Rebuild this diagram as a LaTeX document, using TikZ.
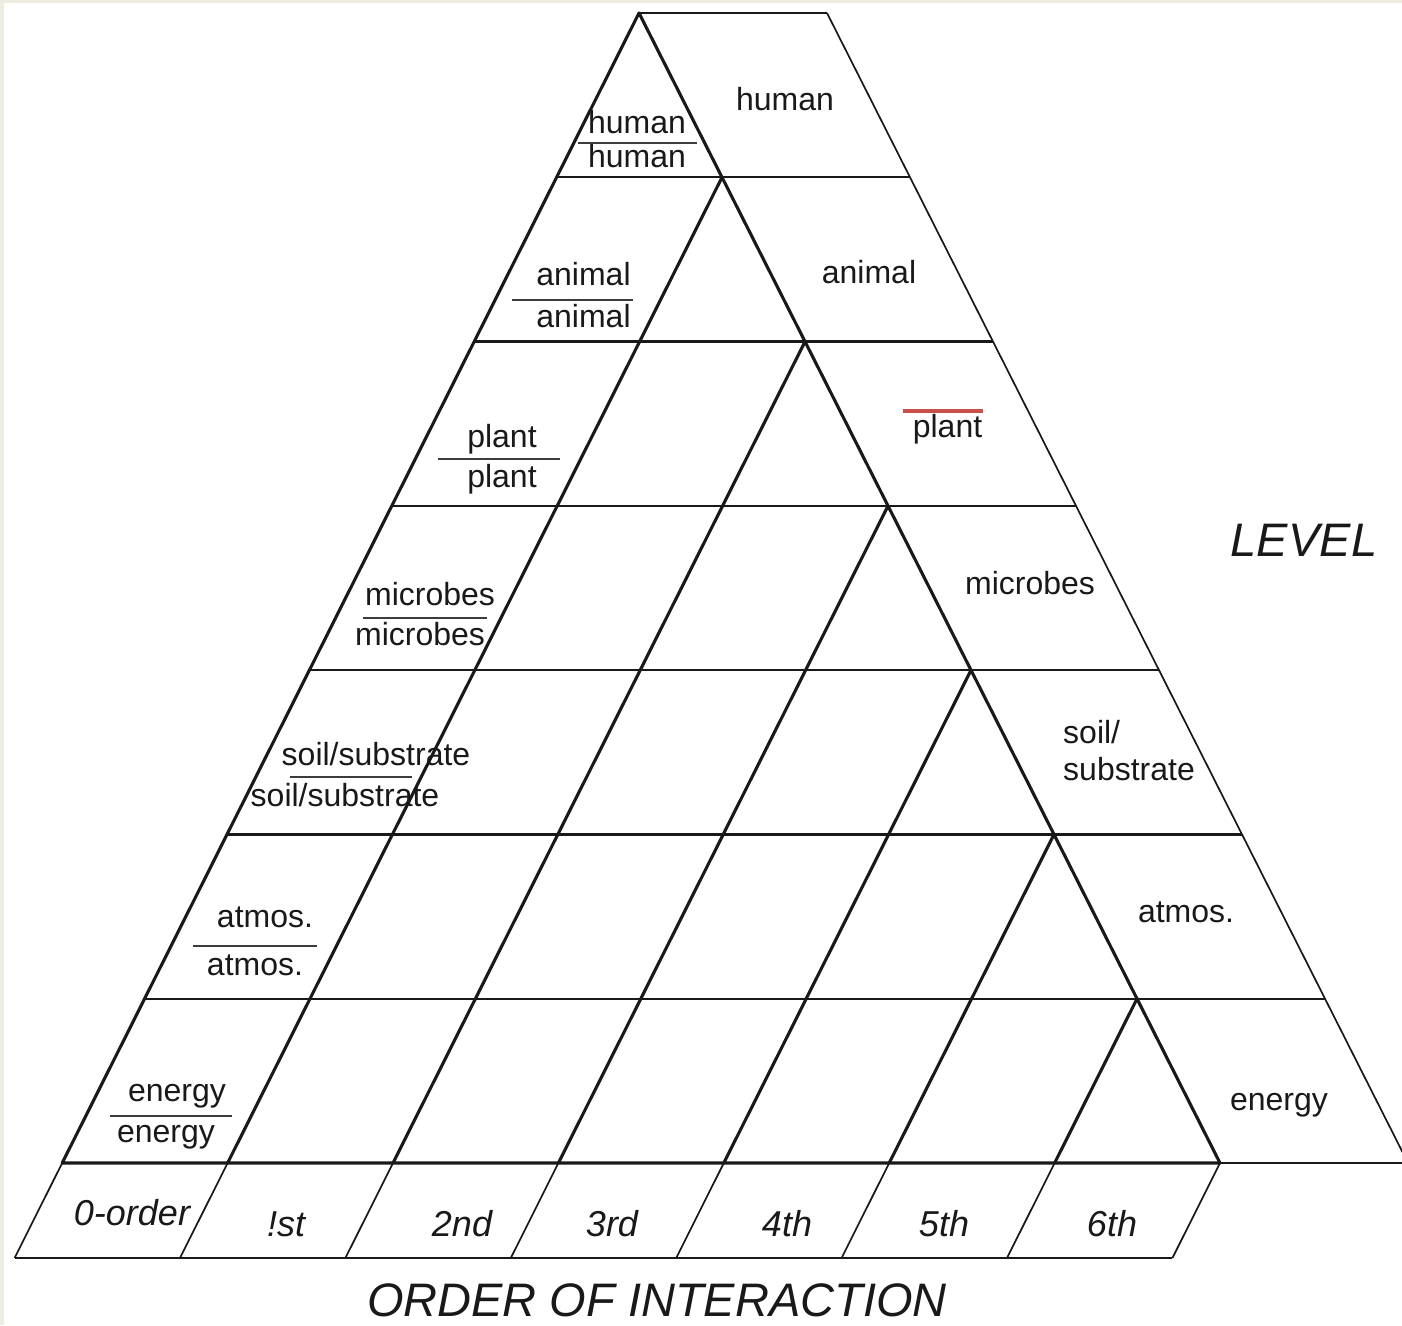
\documentclass[tikz,border=0pt]{standalone}
\usepackage{fontspec}
\setmainfont{Liberation Sans}
\definecolor{frame}{RGB}{238,235,224}
\definecolor{ink}{RGB}{25,25,25}
\definecolor{redmark}{RGB}{200,80,75}
\begin{document}
\begin{tikzpicture}[x=1pt,y=-1pt,
  heavy/.style={line width=3.1pt,draw=ink,line cap=round,line join=round},
  mid/.style={line width=2.2pt,draw=ink},
  thin/.style={line width=1.7pt,draw=ink},
  fracrule/.style={line width=2pt,draw=ink!85},
  lab/.style={font=\fontsize{32}{38}\selectfont,inner sep=0pt,anchor=base,text=ink},
  ordlab/.style={font=\fontsize{36}{42}\selectfont\itshape,inner sep=0pt,anchor=base,text=ink},
  title/.style={font=\fontsize{47}{54}\selectfont\itshape,inner sep=0pt,anchor=base,text=ink}]
\useasboundingbox (0,0) rectangle (1402,1325);
\fill[frame] (0,0) rectangle (1402,1325);
\fill[white] (4,3) rectangle (1402,1325);
\def\ax{639}\def\ay{13}\def\dy{164.2857}\def\hl{82.4}\def\hr{83.0}\def\off{188}
\coordinate (A) at (\ax,\ay);
\foreach \k in {0,...,7}{
  \pgfmathsetmacro\yy{\ay+\k*\dy}
  \pgfmathsetmacro\xl{\ax-\k*\hl}
  \pgfmathsetmacro\xr{\ax+\k*\hr}
  \pgfmathsetmacro\xo{\xr+\off}
  \coordinate (L\k) at (\xl,\yy);
  \coordinate (R\k) at (\xr,\yy);
  \coordinate (O\k) at (\xo,\yy);
  \pgfmathsetmacro\xp{\ax+\k*\hr-(7-\k)*\hl}
  \pgfmathsetmacro\xq{\xp-47.6}
  \coordinate (P\k) at (\xp,1163);
  \coordinate (Q\k) at (\xq,1258);
}
\coordinate (E) at (1402,1163);
% right strip
\foreach \k in {0,...,6}{\draw[mid] (R\k) -- (O\k);}
\draw[thin] (R7) -- (E);
\draw[thin] (O0) -- (O7);
% triangle horizontals
\foreach \k in {1,...,6}{\draw[mid] (L\k) -- (R\k);}
% bottom strip
\foreach \k in {0,...,7}{\draw[thin] (P\k) -- (Q\k);}
\draw[thin] (Q0) -- (Q7);
% diagonals
\foreach \k in {1,...,6}{\draw[heavy] (R\k) -- (P\k);}
% triangle outline
\draw[heavy] (L7) -- (A) -- (R7) -- cycle;
% fractions
\node[lab] (fh1) at (637,133) {human};
\draw[fracrule] (578,143) -- (697,143);
\node[lab] (fh2) at (637,167) {human};
\node[lab] (fa1) at (583.5,285) {animal};
\draw[fracrule] (512,300) -- (633,300);
\node[lab] (fa2) at (583.5,327) {animal};
\node[lab] (fp1) at (502,447) {plant};
\draw[fracrule] (438,459) -- (560,459);
\node[lab] (fp2) at (502,487) {plant};
\node[lab] (fm1) at (430,605) {microbes};
\draw[fracrule] (363,618) -- (487,618);
\node[lab] (fm2) at (420,645) {microbes};
\node[lab] (fs1) at (376,765) {soil/substrate};
\draw[fracrule] (290,777) -- (412,777);
\node[lab] (fs2) at (345,806) {soil/substrate};
\node[lab] (ft1) at (265,927) {atmos.};
\draw[fracrule] (193,946) -- (317,946);
\node[lab] (ft2) at (255,975) {atmos.};
\node[lab] (fe1) at (177,1101) {energy};
\draw[fracrule] (110,1116) -- (232,1116);
\node[lab] (fe2) at (166,1142) {energy};
% level labels
\node[lab] (lh) at (785,110) {human};
\node[lab] (la) at (869,283) {animal};
\draw[line width=4.5pt,draw=redmark] (903,411) -- (983,411);
\node[lab] (lp) at (947.5,437) {plant};
\node[lab] (lm) at (1030,594) {microbes};
\node[lab,anchor=base west] (ls1) at (1063,743) {soil/};
\node[lab,anchor=base west] (ls2) at (1063,780) {substrate};
\node[lab] (lt) at (1186,922) {atmos.};
\node[lab] (le) at (1279,1110) {energy};
% orders
\node[ordlab] (o0) at (132,1225) {0-order};
\node[ordlab] (o1) at (286,1236) {!st};
\node[ordlab] (o2) at (462,1236) {2nd};
\node[ordlab] (o3) at (612,1236) {3rd};
\node[ordlab] (o4) at (787,1236) {4th};
\node[ordlab] (o5) at (944,1236) {5th};
\node[ordlab] (o6) at (1112,1236) {6th};
% titles
\node[title] (lev) at (1304,556) {LEVEL};
\node[title] (ooi) at (657,1316) {ORDER OF INTERACTION};
\end{tikzpicture}
\end{document}
